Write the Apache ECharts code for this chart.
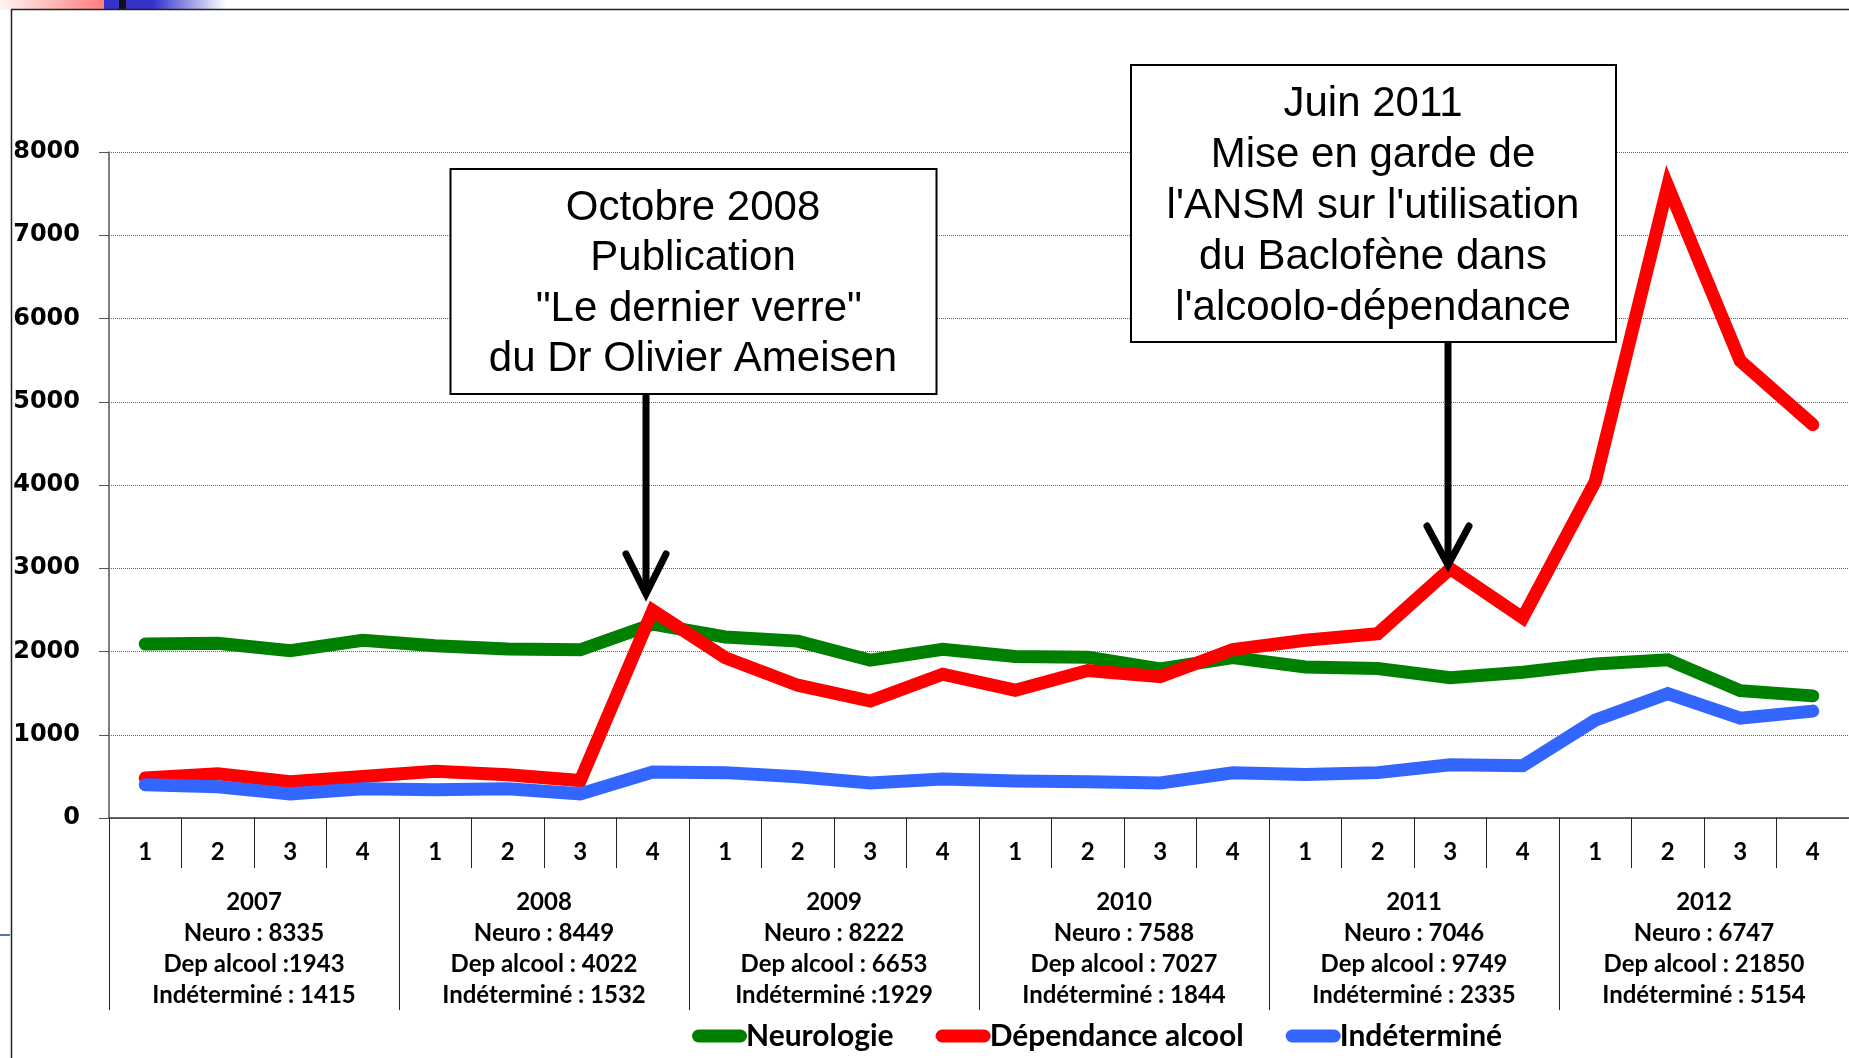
<!DOCTYPE html>
<html>
<head>
<meta charset="utf-8">
<script src="https://cdn.jsdelivr.net/npm/echarts@6/dist/echarts.min.js"></script>
<style>
html, body { margin: 0; padding: 0; background: #fff; }
#main { width: 1849px; height: 1058px; }
</style>
</head>
<body>
<div id="main"></div>
<script>
// trimestres et années
var quarters = ['1', '2', '3', '4', '1', '2', '3', '4', '1', '2', '3', '4',
	'1', '2', '3', '4', '1', '2', '3', '4', '1', '2', '3', '4'];
var years = ['2007', '2008', '2009', '2010', '2011', '2012'];
var neuroTotals = ['Neuro : 8335', 'Neuro : 8449', 'Neuro : 8222', 'Neuro : 7588', 'Neuro : 7046', 'Neuro : 6747'];
var depTotals = ['Dep alcool :1943', 'Dep alcool : 4022', 'Dep alcool : 6653', 'Dep alcool : 7027', 'Dep alcool : 9749', 'Dep alcool : 21850'];
var indetTotals = ['Indéterminé : 1415', 'Indéterminé : 1532', 'Indéterminé :1929', 'Indéterminé : 1844', 'Indéterminé : 2335', 'Indéterminé : 5154'];

// valeurs trimestrielles
var neurologie = [2090, 2100, 2010, 2135, 2070, 2030, 2020, 2329, 2175, 2125, 1895, 2027,
	1940, 1930, 1790, 1928, 1815, 1795, 1686, 1750, 1850, 1900, 1530, 1467];
var dependance = [480, 530, 435, 498, 560, 520, 450, 2492, 1925, 1595, 1405, 1728,
	1535, 1772, 1697, 2023, 2135, 2215, 2995, 2404, 4040, 7595, 5490, 4725];
var indetermine = [400, 375, 290, 350, 340, 350, 290, 552, 545, 495, 420, 469,
	445, 435, 420, 544, 522, 545, 640, 628, 1175, 1495, 1200, 1284];

var yTicks = [0, 1000, 2000, 3000, 4000, 5000, 6000, 7000, 8000];

var note1 = ['Octobre 2008', 'Publication', ' "Le dernier verre"', 'du Dr Olivier Ameisen'];
var note2 = ['Juin 2011', 'Mise en garde de', "l'ANSM sur l'utilisation", 'du Baclofène dans', "l'alcoolo-dépendance"];

var Container = document.getElementById('main');
var myChart = echarts.init(Container);

var labelFont = 'Lato, "Open Sans", sans-serif';

function lineSerie(name, data, color) {
	return {
		name: name,
		type: 'line',
		data: data,
		symbol: 'none',
		itemStyle: { color: color },
		lineStyle: { color: color, width: 13, cap: 'round', join: 'miter' }
	};
}

function arrow(x, yTop, yTip, armDx, armDy) {
	return [{
		type: 'line',
		shape: { x1: x, y1: yTop, x2: x, y2: yTip - 4 },
		style: { stroke: '#000', lineWidth: 7 }
	}, {
		type: 'polyline',
		shape: { points: [[x - armDx, yTip - armDy], [x, yTip], [x + armDx, yTip - armDy]] },
		style: { stroke: '#000', lineWidth: 7, lineCap: 'round', lineJoin: 'miter', fill: null }
	}];
}

var graphics = [
	// bandeau décoratif en haut à gauche
	{ type: 'rect', shape: { x: 0, y: 0, width: 104, height: 9.5 },
		style: { fill: new echarts.graphic.LinearGradient(0, 0, 1, 0, [
			{ offset: 0, color: '#fff4f4' }, { offset: 1, color: '#ff7d7d' }]) } },
	{ type: 'rect', shape: { x: 104, y: 0, width: 122, height: 9.5 },
		style: { fill: new echarts.graphic.LinearGradient(0, 0, 1, 0, [
			{ offset: 0, color: '#3333cc' }, { offset: 0.4, color: '#3333cc' }, { offset: 1, color: '#ffffff' }]) } },
	{ type: 'rect', shape: { x: 119, y: 0, width: 7, height: 9.5 }, style: { fill: '#111' } },
	// cadre
	{ type: 'line', shape: { x1: 11.5, y1: 9.5, x2: 11.5, y2: 1058 }, style: { stroke: '#222', lineWidth: 1.5 } },
	{ type: 'line', shape: { x1: 11, y1: 9.5, x2: 1849, y2: 9.5 }, style: { stroke: '#222', lineWidth: 1.5 } },
	{ type: 'line', shape: { x1: 0, y1: 935, x2: 10, y2: 935 }, style: { stroke: '#5577aa', lineWidth: 2 } },
	// encadré 1
	{ type: 'rect', shape: { x: 450.5, y: 169, width: 486, height: 225 },
		style: { fill: '#fff', stroke: '#000', lineWidth: 2 }, z: 10 },
	{ type: 'text', x: 693, y: 284, z: 11,
		style: { text: note1.join('\n'), font: '42px "Liberation Sans", Arial, sans-serif',
			fill: '#000', align: 'center', verticalAlign: 'middle', lineHeight: 50.5 } },
	// encadré 2
	{ type: 'rect', shape: { x: 1131, y: 65, width: 485, height: 277 },
		style: { fill: '#fff', stroke: '#000', lineWidth: 2 }, z: 10 },
	{ type: 'text', x: 1373, y: 206.5, z: 11,
		style: { text: note2.join('\n'), font: '42px "Liberation Sans", Arial, sans-serif',
			fill: '#000', align: 'center', verticalAlign: 'middle', lineHeight: 51 } }
];
graphics = graphics.concat(arrow(646, 394, 594, 20, 40), arrow(1448, 342, 565, 21, 39));
graphics.forEach(function (g) { if (g.z === undefined) g.z = 10; });

// options du graphique
var option = {
	animation: false,
	backgroundColor: '#fff',
	grid: { left: 109, top: 152, width: 1742, height: 666 },
	legend: {
		left: 687,
		top: 1016,
		itemWidth: 55,
		itemHeight: 13,
		itemGap: 42,
		icon: 'path://M6.5,0 H48.5 A6.5,6.5 0 0 1 48.5,13 H6.5 A6.5,6.5 0 0 1 6.5,0 Z',
		textStyle: { fontFamily: labelFont, fontWeight: 'bold', fontSize: 30, color: '#000', padding: [0, 0, 0, -6] },
		data: ['Neurologie', 'Dépendance alcool', 'Indéterminé']
	},
	xAxis: [{
		type: 'category',
		data: quarters,
		position: 'bottom',
		axisLine: { lineStyle: { color: '#333', width: 1.5 } },
		axisTick: { show: true, length: 50, interval: 0, lineStyle: { color: '#222', width: 1 } },
		axisLabel: { interval: 0, margin: 21, fontFamily: labelFont, fontWeight: 'bold',
			fontSize: 24, color: '#000', lineHeight: 26 }
	}, {
		type: 'category',
		data: years,
		position: 'bottom',
		axisLine: { show: false },
		axisTick: { show: true, length: 192, interval: 0, lineStyle: { color: '#222', width: 1 } },
		axisLabel: {
			interval: 0, margin: 69, fontFamily: labelFont, fontWeight: 'bold',
			fontSize: 24, color: '#000', lineHeight: 31,
			formatter: function (v, i) {
				return [v, neuroTotals[i], depTotals[i], indetTotals[i]].join('\n');
			}
		}
	}],
	yAxis: {
		type: 'value',
		min: yTicks[0],
		max: yTicks[yTicks.length - 1],
		interval: 1000,
		axisLine: { show: true, lineStyle: { color: '#555', width: 1.5 } },
		axisTick: { show: true, length: 10, lineStyle: { color: '#555' } },
		axisLabel: { margin: 29, fontFamily: '"DejaVu Sans", Verdana, sans-serif', fontWeight: 'bold',
			fontSize: 24, color: '#000', formatter: function (v) { return String(v); } },
		splitLine: { lineStyle: { color: '#666', width: 1, type: [1, 1] } }
	},
	series: [
		lineSerie('Neurologie', neurologie, '#008000'),
		lineSerie('Dépendance alcool', dependance, '#ff0000'),
		lineSerie('Indéterminé', indetermine, '#3366ff')
	],
	graphic: graphics
};
myChart.setOption(option);
</script>
</body>
</html>
